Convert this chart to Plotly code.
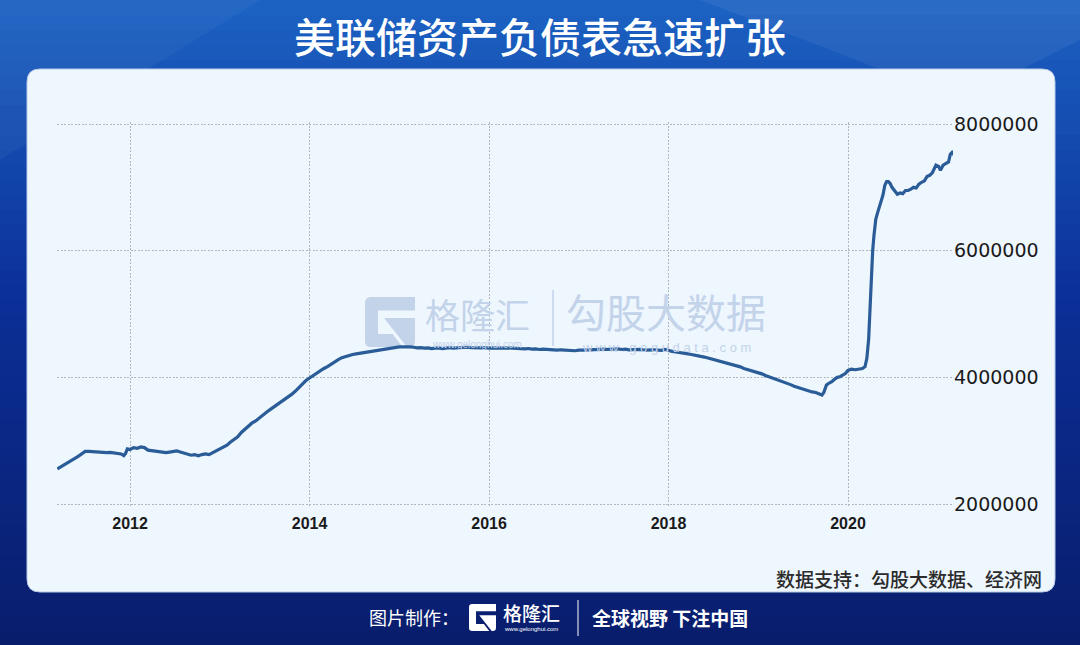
import plotly.graph_objects as go

# ---------------- data ----------------
years = [
    2011.19, 2011.23, 2011.27, 2011.31, 2011.35, 2011.39, 2011.43, 2011.47, 2011.50, 2011.54,
    2011.58, 2011.62, 2011.66, 2011.70, 2011.74, 2011.78, 2011.82, 2011.86, 2011.90, 2011.93,
    2011.95, 2011.97, 2012.00, 2012.04, 2012.08, 2012.12, 2012.16, 2012.20, 2012.24, 2012.28,
    2012.32, 2012.36, 2012.40, 2012.44, 2012.48, 2012.52, 2012.56, 2012.60, 2012.64, 2012.68,
    2012.72, 2012.76, 2012.80, 2012.84, 2012.88, 2012.92, 2012.96, 2013.00, 2013.04, 2013.08,
    2013.12, 2013.16, 2013.20, 2013.24, 2013.28, 2013.32, 2013.36, 2013.40, 2013.44, 2013.48,
    2013.52, 2013.56, 2013.60, 2013.64, 2013.68, 2013.72, 2013.76, 2013.80, 2013.84, 2013.88,
    2013.92, 2013.96, 2014.00, 2014.04, 2014.08, 2014.12, 2014.16, 2014.20, 2014.24, 2014.28,
    2014.32, 2014.36, 2014.40, 2014.44, 2014.48, 2014.52, 2014.56, 2014.60, 2014.64, 2014.68,
    2014.72, 2014.76, 2014.80, 2014.84, 2014.88, 2014.92, 2014.96, 2015.00, 2015.04, 2015.08,
    2015.12, 2015.16, 2015.20, 2015.24, 2015.28, 2015.32, 2015.36, 2015.40, 2015.44, 2015.48,
    2015.52, 2015.56, 2015.60, 2015.64, 2015.68, 2015.72, 2015.76, 2015.80, 2015.84, 2015.88,
    2015.92, 2015.96, 2016.00, 2016.04, 2016.08, 2016.12, 2016.16, 2016.20, 2016.24, 2016.28,
    2016.32, 2016.36, 2016.40, 2016.44, 2016.48, 2016.52, 2016.56, 2016.60, 2016.64, 2016.68,
    2016.72, 2016.76, 2016.80, 2016.84, 2016.88, 2016.92, 2016.96, 2017.00, 2017.04, 2017.08,
    2017.12, 2017.16, 2017.20, 2017.24, 2017.28, 2017.32, 2017.36, 2017.40, 2017.44, 2017.48,
    2017.52, 2017.56, 2017.60, 2017.64, 2017.68, 2017.72, 2017.76, 2017.80, 2017.84, 2017.88,
    2017.92, 2017.96, 2018.00, 2018.04, 2018.08, 2018.12, 2018.16, 2018.20, 2018.24, 2018.28,
    2018.32, 2018.36, 2018.40, 2018.44, 2018.48, 2018.52, 2018.56, 2018.60, 2018.64, 2018.68,
    2018.72, 2018.76, 2018.80, 2018.84, 2018.88, 2018.92, 2018.96, 2019.00, 2019.04, 2019.08,
    2019.12, 2019.16, 2019.20, 2019.24, 2019.28, 2019.32, 2019.36, 2019.40, 2019.44, 2019.48,
    2019.52, 2019.56, 2019.60, 2019.64, 2019.68, 2019.71, 2019.73, 2019.76, 2019.79, 2019.82,
    2019.85, 2019.88, 2019.91, 2019.94, 2019.97, 2020.00, 2020.04, 2020.08, 2020.12, 2020.16,
    2020.19, 2020.21, 2020.23, 2020.245, 2020.26, 2020.275, 2020.29, 2020.31, 2020.33, 2020.35,
    2020.37, 2020.39, 2020.41, 2020.43, 2020.45, 2020.47, 2020.49, 2020.52, 2020.55, 2020.58,
    2020.61, 2020.64, 2020.67, 2020.70, 2020.73, 2020.76, 2020.79, 2020.82, 2020.85, 2020.88,
    2020.91, 2020.94, 2020.96, 2020.98, 2021.01, 2021.03, 2021.06, 2021.09, 2021.12, 2021.14,
    2021.16, 2021.19,
]
assets = [
    2553000, 2585000, 2620000, 2655000, 2690000, 2725000, 2760000, 2800000, 2830000, 2830000,
    2825000, 2820000, 2815000, 2820000, 2810000, 2815000, 2810000, 2800000, 2790000, 2765000,
    2800000, 2870000, 2860000, 2890000, 2880000, 2900000, 2890000, 2850000, 2840000, 2830000,
    2820000, 2820000, 2810000, 2820000, 2830000, 2840000, 2820000, 2800000, 2790000, 2770000,
    2780000, 2760000, 2780000, 2790000, 2780000, 2810000, 2840000, 2870000, 2900000, 2930000,
    2980000, 3020000, 3060000, 3130000, 3180000, 3230000, 3280000, 3310000, 3360000, 3400000,
    3450000, 3490000, 3530000, 3560000, 3600000, 3640000, 3690000, 3730000, 3780000, 3840000,
    3890000, 3950000, 3990000, 4030000, 4070000, 4100000, 4140000, 4170000, 4210000, 4250000,
    4280000, 4310000, 4330000, 4340000, 4360000, 4370000, 4380000, 4390000, 4400000, 4410000,
    4420000, 4420000, 4440000, 4450000, 4450000, 4460000, 4470000, 4480000, 4480000, 4485000,
    4480000, 4475000, 4465000, 4470000, 4460000, 4465000, 4455000, 4460000, 4465000, 4455000,
    4465000, 4470000, 4460000, 4465000, 4470000, 4465000, 4475000, 4470000, 4465000, 4470000,
    4465000, 4470000, 4460000, 4465000, 4460000, 4465000, 4460000, 4465000, 4460000, 4455000,
    4460000, 4455000, 4450000, 4455000, 4445000, 4450000, 4440000, 4445000, 4440000, 4435000,
    4440000, 4430000, 4435000, 4430000, 4425000, 4430000, 4420000, 4430000, 4425000, 4430000,
    4435000, 4440000, 4435000, 4440000, 4445000, 4440000, 4445000, 4440000, 4450000, 4440000,
    4445000, 4435000, 4440000, 4435000, 4440000, 4430000, 4435000, 4430000, 4435000, 4430000,
    4425000, 4440000, 4420000, 4410000, 4400000, 4395000, 4385000, 4375000, 4365000, 4350000,
    4340000, 4330000, 4320000, 4305000, 4290000, 4275000, 4260000, 4245000, 4235000, 4215000,
    4200000, 4180000, 4165000, 4140000, 4125000, 4110000, 4090000, 4070000, 4055000, 4030000,
    4010000, 3990000, 3970000, 3955000, 3930000, 3910000, 3885000, 3860000, 3840000, 3820000,
    3800000, 3790000, 3770000, 3760000, 3730000, 3720000, 3760000, 3880000, 3910000, 3930000,
    3970000, 4000000, 4010000, 4040000, 4060000, 4110000, 4130000, 4120000, 4130000, 4140000,
    4170000, 4300000, 4600000, 5100000, 5550000, 6000000, 6250000, 6500000, 6600000, 6700000,
    6780000, 6880000, 7030000, 7090000, 7090000, 7060000, 7000000, 6950000, 6890000, 6910000,
    6900000, 6950000, 6950000, 6970000, 7000000, 6990000, 7050000, 7080000, 7100000, 7170000,
    7190000, 7230000, 7300000, 7350000, 7330000, 7270000, 7350000, 7380000, 7400000, 7520000,
    7550000, 7500000,
]

x_tick_vals = [2012, 2014, 2016, 2018, 2020]
x_tick_text = ["2012", "2014", "2016", "2018", "2020"]
y_tick_vals = [2000000, 4000000, 6000000, 8000000]
y_tick_text = ["2000000", "4000000", "6000000", "8000000"]
y_range = [1970000, 8030000]

title_text = "美联储资产负债表急速扩张"
source_text = "数据支持：勾股大数据、经济网"

W, H = 1080, 645


def px(x):
    return x / W


def py(y):
    return 1 - y / H


def rounded_rect(x0, y0, x1, y1, r):
    return (f"M {px(x0 + r)},{py(y0)} L {px(x1 - r)},{py(y0)} "
            f"Q {px(x1)},{py(y0)} {px(x1)},{py(y0 + r)} "
            f"L {px(x1)},{py(y1 - r)} Q {px(x1)},{py(y1)} {px(x1 - r)},{py(y1)} "
            f"L {px(x0 + r)},{py(y1)} Q {px(x0)},{py(y1)} {px(x0)},{py(y1 - r)} "
            f"L {px(x0)},{py(y0 + r)} Q {px(x0)},{py(y0)} {px(x0 + r)},{py(y0)} Z")


def g_logo(x0, y0, s):
    def P(u, v):
        return f"{px(x0 + u * s)},{py(y0 + v * s)}"
    outer = (f"M {P(0.12,0)} L {P(1,0)} L {P(1,0.27)} L {P(0.26,0.27)} L {P(0.26,0.74)} "
             f"L {P(0.55,0.74)} L {P(0.75,1)} L {P(0.12,1)} Q {P(0,1)} {P(0,0.88)} "
             f"L {P(0,0.12)} Q {P(0,0)} {P(0.12,0)} Z")
    tri = (f"M {P(0.38,0.42)} L {P(1,0.42)} L {P(1,0.88)} Q {P(1,1)} {P(0.88,1)} "
           f"L {P(0.84,1)} Z")
    return [outer, tri]


def lerp_col(c0, c1, t):
    return "#%02x%02x%02x" % tuple(int(round(a + (b - a) * t)) for a, b in zip(c0, c1))


shapes = []
# background gradient bands
top_c = (0x1c, 0x63, 0xc3)
mid_c = (0x0b, 0x30, 0x98)
bot_c = (0x09, 0x1d, 0x6c)
n = 43
for i in range(n):
    y0 = i * H / n
    y1 = (i + 1) * H / n + 1
    t = (i + 0.5) / n
    if t < 0.45:
        col = lerp_col(top_c, mid_c, t / 0.45)
    else:
        col = lerp_col(mid_c, bot_c, (t - 0.45) / 0.55)
    shapes.append(dict(type="rect", xref="paper", yref="paper", x0=-0.01, x1=1.01,
                       y0=py(y1), y1=py(y0), fillcolor=col, line=dict(width=0), layer="below"))
# faint light streaks
shapes.append(dict(type="path", xref="paper", yref="paper",
                   path=f"M {px(700)},{py(0)} L {px(1080)},{py(0)} L {px(1080)},{py(40)} L {px(960)},{py(100)} Z",
                   fillcolor="rgba(255,255,255,0.06)", line=dict(width=0), layer="below"))
shapes.append(dict(type="path", xref="paper", yref="paper",
                   path=f"M {px(0)},{py(0)} L {px(260)},{py(0)} L {px(0)},{py(160)} Z",
                   fillcolor="rgba(255,255,255,0.04)", line=dict(width=0), layer="below"))
# panel
shapes.append(dict(type="path", xref="paper", yref="paper", path=rounded_rect(27, 69, 1055, 592, 13),
                   fillcolor="#eef6fe", line=dict(color="#b7cbe6", width=1), layer="below"))
# watermark logo
wm_col = "#c3d3ea"
for p in g_logo(365, 297, 50):
    shapes.append(dict(type="path", xref="paper", yref="paper", path=p,
                       fillcolor=wm_col, line=dict(width=0), layer="below"))
shapes.append(dict(type="line", xref="paper", yref="paper", x0=px(553), x1=px(553),
                   y0=py(290), y1=py(346), line=dict(color=wm_col, width=1.5), layer="below"))
# footer logo
for p in g_logo(469, 604, 27):
    shapes.append(dict(type="path", xref="paper", yref="paper", path=p,
                       fillcolor="#ffffff", line=dict(width=0)))
shapes.append(dict(type="line", xref="paper", yref="paper", x0=px(578), x1=px(578),
                   y0=py(600), y1=py(636), line=dict(color="#ffffff", width=1)))

fig = go.Figure()
fig.add_trace(go.Scatter(x=years, y=assets, mode="lines",
                         line=dict(color="#2a5c97", width=3.2, shape="linear"),
                         hoverinfo="skip", showlegend=False))

cjk = "Noto Sans CJK SC"
annotations = [
    dict(text=title_text, x=px(540), y=py(35), xref="paper", yref="paper", showarrow=False,
         font=dict(family=cjk, size=41, color="#ffffff", weight=500), xanchor="center", yanchor="middle"),
    dict(text=source_text, x=px(1044), y=py(578), xref="paper", yref="paper", showarrow=False,
         font=dict(family=cjk, size=19, color="#2b2b2b", weight=500), xanchor="right", yanchor="middle"),
    # watermark
    dict(text="格隆汇", x=px(477), y=py(313), xref="paper", yref="paper", showarrow=False,
         font=dict(family=cjk, size=35, color=wm_col), xanchor="center", yanchor="middle"),
    dict(text="www.gelonghui.com", x=px(477), y=py(345), xref="paper", yref="paper", showarrow=False,
         font=dict(family="Liberation Sans", size=10, color=wm_col), xanchor="center", yanchor="middle"),
    dict(text="勾股大数据", x=px(666), y=py(311), xref="paper", yref="paper", showarrow=False,
         font=dict(family=cjk, size=40, color=wm_col), xanchor="center", yanchor="middle"),
    dict(text="w w w . g o g u d a t a . c o m", x=px(666), y=py(347), xref="paper", yref="paper",
         showarrow=False, font=dict(family="Liberation Sans", size=13, color=wm_col),
         xanchor="center", yanchor="middle"),
    # footer
    dict(text="图片制作：", x=px(414), y=py(617), xref="paper", yref="paper", showarrow=False,
         font=dict(family=cjk, size=18, color="#ffffff"), xanchor="center", yanchor="middle"),
    dict(text="格隆汇", x=px(531), y=py(612), xref="paper", yref="paper", showarrow=False,
         font=dict(family=cjk, size=19, color="#ffffff", weight=500), xanchor="center", yanchor="middle"),
    dict(text="www.gelonghui.com", x=px(531), y=py(629), xref="paper", yref="paper", showarrow=False,
         font=dict(family="Liberation Sans", size=6, color="#ffffff"), xanchor="center", yanchor="middle"),
    dict(text="全球视野 下注中国", x=px(670), y=py(617), xref="paper", yref="paper", showarrow=False,
         font=dict(family=cjk, size=19, color="#ffffff", weight=700), xanchor="center", yanchor="middle"),
]

# plot-area pixel box: 2,000,000 sits at y=504 px and 8,000,000 at y=124 px
px_per_val = 380 / 6000000
y_top_px = 124 - (y_range[1] - 8000000) * px_per_val
y_bot_px = 504 + (2000000 - y_range[0]) * px_per_val

grid_col = "#b3b8bf"
fig.update_layout(
    width=W, height=H,
    autosize=False,
    margin=dict(l=0, r=0, t=0, b=0, pad=0, autoexpand=False),
    paper_bgcolor="#0b2a8a",
    plot_bgcolor="rgba(0,0,0,0)",
    shapes=shapes,
    annotations=annotations,
    showlegend=False,
    xaxis=dict(domain=[px(57), px(953)], range=[2011.186, 2021.17],
               tickmode="array", tickvals=x_tick_vals, ticktext=x_tick_text,
               showgrid=True, gridcolor=grid_col, griddash="2px,1.5px", gridwidth=1.2,
               zeroline=False, showline=False, ticks="", automargin=False,
               ticklabelstandoff=6,
               tickfont=dict(family="Liberation Sans", size=16, color="#1a1a1a", weight=700),
               fixedrange=True),
    yaxis=dict(domain=[py(y_bot_px), py(y_top_px)], range=y_range, side="right",
               tickmode="array", tickvals=y_tick_vals, ticktext=y_tick_text,
               showgrid=True, gridcolor=grid_col, griddash="2px,1.5px", gridwidth=1.2,
               zeroline=False, showline=False, ticks="", automargin=False,
               tickfont=dict(family="DejaVu Sans", size=19, color="#1a1a1a"),
               fixedrange=True),
)

fig.write_html("out.html", config={"displayModeBar": False})

# remove the default page margin so the figure sits at the window's corner
with open("out.html", "r", encoding="utf-8") as f:
    html = f.read()
html = html.replace("<head>", "<head><style>html,body{margin:0;padding:0;overflow:hidden;}</style>", 1)
with open("out.html", "w", encoding="utf-8") as f:
    f.write(html)
